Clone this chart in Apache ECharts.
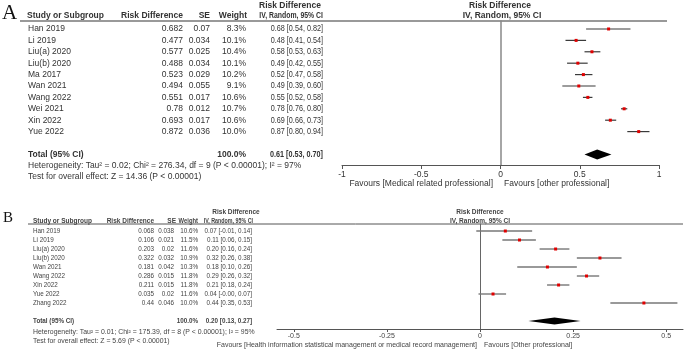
<!DOCTYPE html>
<html><head><meta charset="utf-8">
<script src="https://cdn.jsdelivr.net/npm/echarts@6/dist/echarts.min.js"></script>
<style>html,body{margin:0;padding:0;background:#fff}#c{width:685px;height:354px}</style>
</head><body><div id="c"></div>
<script>
// ---------- Panel A data ----------
const studiesA = ['Han 2019','Li 2019','Liu(a) 2020','Liu(b) 2020','Ma 2017','Wan 2021','Wang 2022','Wei 2021','Xin 2022','Yue 2022'];
const rdA = [0.682,0.477,0.577,0.488,0.523,0.494,0.551,0.78,0.693,0.872];
const seA = [0.07,0.034,0.025,0.034,0.029,0.055,0.017,0.012,0.017,0.036];
const weightA = ['8.3%','10.1%','10.4%','10.1%','10.2%','9.1%','10.6%','10.7%','10.6%','10.0%'];
const ciLowA = [0.54,0.41,0.53,0.42,0.47,0.39,0.52,0.76,0.66,0.80];
const ciHighA = [0.82,0.54,0.63,0.55,0.58,0.60,0.58,0.80,0.73,0.94];
const ciLabelA = ['0.68 [0.54, 0.82]','0.48 [0.41, 0.54]','0.58 [0.53, 0.63]','0.49 [0.42, 0.55]','0.52 [0.47, 0.58]','0.49 [0.39, 0.60]','0.55 [0.52, 0.58]','0.78 [0.76, 0.80]','0.69 [0.66, 0.73]','0.87 [0.80, 0.94]'];
const totalA = [0.61,0.53,0.70];
const totalLabelA = '0.61 [0.53, 0.70]';
const ticksA = [-1,-0.5,0,0.5,1];
const hetA = 'Heterogeneity: Tau\u00b2 = 0.02; Chi\u00b2 = 276.34, df = 9 (P < 0.00001); I\u00b2 = 97%';
const testA = 'Test for overall effect: Z = 14.36 (P < 0.00001)';

// ---------- Panel B data ----------
const studiesB = ['Han 2019','Li 2019','Liu(a) 2020','Liu(b) 2020','Wan 2021','Wang 2022','Xin 2022','Yue 2022','Zhang 2022'];
const rdB = [0.068,0.106,0.203,0.322,0.181,0.286,0.211,0.035,0.44];
const seB = [0.038,0.021,0.02,0.032,0.042,0.015,0.015,0.02,0.046];
const weightB = ['10.6%','11.5%','11.6%','10.9%','10.3%','11.8%','11.8%','11.6%','10.0%'];
const ciLowB = [-0.01,0.06,0.16,0.26,0.10,0.26,0.18,-0.004,0.35];
const ciHighB = [0.14,0.15,0.24,0.38,0.26,0.32,0.24,0.07,0.53];
const ciLabelB = ['0.07 [-0.01, 0.14]','0.11 [0.06, 0.15]','0.20 [0.16, 0.24]','0.32 [0.26, 0.38]','0.18 [0.10, 0.26]','0.29 [0.26, 0.32]','0.21 [0.18, 0.24]','0.04 [-0.00, 0.07]','0.44 [0.35, 0.53]'];
const totalB = [0.20,0.13,0.27];
const totalLabelB = '0.20 [0.13, 0.27]';
const ticksB = [-0.5,-0.25,0,0.25,0.5];
const hetB = 'Heterogeneity: Tau\u00b2 = 0.01; Chi\u00b2 = 175.39, df = 8 (P < 0.00001); I\u00b2 = 95%';
const testB = 'Test for overall effect: Z = 5.69 (P < 0.00001)';

const FF = "'Liberation Sans', Arial, Helvetica, sans-serif";

const panels = [
  {studies: studiesA, rd: rdA, se: seA, wt: weightA, lo: ciLowA, hi: ciHighA, ci: ciLabelA, total: totalA, totalLabel: totalLabelA,
   fs: 8.5, ciScale: 0.85, col: {name: 28, rd: 183, se: 210, wt: 246, ci: 323}, color: '#333', ciColor: '#3a3a3a', ciWidth: 1.2, dot: 3, dh: 5},
  {studies: studiesB, rd: rdB, se: seB, wt: weightB, lo: ciLowB, hi: ciHighB, ci: ciLabelB, total: totalB, totalLabel: totalLabelB,
   fs: 6.3, ciScale: 1, col: {name: 33, rd: 154, se: 174, wt: 198, ci: 252}, color: '#444', ciColor: '#777', ciWidth: 1.4, dot: 3, dh: 3.5}
];

function txt(x, y, text, o) {
  o = o || {};
  return {type: 'text', x: x, y: y, scaleX: o.sx || 1, silent: true, style: {
    text: text, fill: o.fill || '#333', align: o.align || 'left', verticalAlign: 'middle',
    font: (o.bold ? 'bold ' : '') + (o.size || 8.5) + 'px ' + (o.family || FF)
  }};
}

function forestSeries(p, k) {
  const data = p.rd.map((v, i) => [v, i, p.lo[i], p.hi[i]]);
  return {
    type: 'custom', xAxisIndex: k, yAxisIndex: k, clip: false, silent: true,
    encode: {x: [0, 2, 3], y: 1},
    data: data,
    renderItem: function (params, api) {
      const i = api.value(1);
      const a = api.coord([api.value(2), i]), b = api.coord([api.value(3), i]), e = api.coord([api.value(0), i]);
      const d = p.dot;
      return {type: 'group', children: [
        {type: 'line', shape: {x1: a[0], y1: a[1], x2: b[0], y2: b[1]}, style: {stroke: p.ciColor, lineWidth: p.ciWidth}},
        {type: 'rect', shape: {x: e[0] - d / 2, y: e[1] - d / 2, width: d, height: d}, style: {fill: '#e00000'}}
      ]};
    }
  };
}

function diamondSeries(p, k) {
  const row = p.studies.length + 1;
  return {
    type: 'custom', xAxisIndex: k, yAxisIndex: k, clip: false, silent: true,
    encode: {x: [0, 2, 3], y: 1},
    data: [[p.total[0], row, p.total[1], p.total[2]]],
    renderItem: function (params, api) {
      const i = api.value(1);
      const l = api.coord([api.value(2), i]), r = api.coord([api.value(3), i]), c = api.coord([api.value(0), i]);
      return {type: 'polygon', shape: {points: [[l[0], l[1]], [c[0], c[1] - p.dh], [r[0], r[1]], [c[0], c[1] + p.dh]]}, style: {fill: '#000'}};
    }
  };
}

function tableSeries(p, k) {
  const n = p.studies.length;
  const data = p.studies.map((s, i) => [0, i]).concat([[0, n + 1]]);
  return {
    type: 'custom', xAxisIndex: k, yAxisIndex: k, clip: false, silent: true,
    encode: {x: 0, y: 1},
    data: data,
    renderItem: function (params, api) {
      const i = api.value(1);
      const y = api.coord([0, i])[1];
      const c = p.col, f = p.fs;
      const mk = (x, t, al, bold, sx) => ({type: 'text', x: x, y: y, scaleX: sx || 1, style: {text: t, fill: p.color, align: al, verticalAlign: 'middle', font: (bold ? 'bold ' : '') + f + 'px ' + FF}});
      if (params.dataIndex < n) {
        const j = params.dataIndex;
        return {type: 'group', children: [
          mk(c.name, p.studies[j], 'left'),
          mk(c.rd, String(p.rd[j]), 'right'),
          mk(c.se, String(p.se[j]), 'right'),
          mk(c.wt, p.wt[j], 'right'),
          mk(c.ci, p.ci[j], 'right', false, p.ciScale)
        ]};
      }
      return {type: 'group', children: [
        mk(c.name, 'Total (95% CI)', 'left', true),
        mk(c.wt, '100.0%', 'right', true),
        mk(c.ci, p.totalLabel, 'right', true, p.ciScale)
      ]};
    }
  };
}

function fmtTick(v) { return String(v); }

const option = {
  animation: false,
  backgroundColor: '#fff',
  grid: [
    {left: 342, right: 26, top: 21, bottom: 189},
    {left: 277, right: 2, top: 224, bottom: 25}
  ],
  xAxis: [
    {gridIndex: 0, type: 'value', min: -1, max: 1, interval: 0.5,
     axisLine: {onZero: false, lineStyle: {color: '#555', width: 1}},
     axisTick: {length: 4, lineStyle: {color: '#555'}},
     axisLabel: {color: '#333', fontSize: 8.5, fontFamily: FF, margin: 5, formatter: fmtTick, customValues: ticksA},
     splitLine: {show: false}},
    {gridIndex: 1, type: 'value', min: -0.545, max: 0.545,
     axisLine: {onZero: false, lineStyle: {color: '#555', width: 1}},
     axisTick: {length: 3, lineStyle: {color: '#555'}, customValues: ticksB},
     axisLabel: {color: '#444', fontSize: 7, fontFamily: FF, margin: 4, formatter: fmtTick, customValues: ticksB},
     splitLine: {show: false}}
  ],
  yAxis: [
    {gridIndex: 0, type: 'value', min: -0.7, max: 11.93, inverse: true,
     axisLine: {show: true, onZero: true, lineStyle: {color: '#888', width: 1.5}},
     axisTick: {show: false}, axisLabel: {show: false}, splitLine: {show: false}},
    {gridIndex: 1, type: 'value', min: -0.78, max: 10.89, inverse: true,
     axisLine: {show: true, onZero: true, lineStyle: {color: '#666', width: 1}},
     axisTick: {show: false}, axisLabel: {show: false}, splitLine: {show: false}}
  ],
  series: [
    forestSeries(panels[0], 0), diamondSeries(panels[0], 0), tableSeries(panels[0], 0),
    forestSeries(panels[1], 1), diamondSeries(panels[1], 1), tableSeries(panels[1], 1)
  ],
  graphic: [
    // Panel A
    txt(2, 13, 'A', {size: 21, family: "'Liberation Serif', 'Times New Roman', serif", fill: '#111'}),
    {type: 'line', silent: true, shape: {x1: 20, y1: 21, x2: 667, y2: 21}, style: {stroke: '#999', lineWidth: 2}},
    txt(290, 6, 'Risk Difference', {bold: true, align: 'center'}),
    txt(500, 6, 'Risk Difference', {bold: true, align: 'center'}),
    txt(27, 16, 'Study or Subgroup', {bold: true}),
    txt(183, 16, 'Risk Difference', {bold: true, align: 'right'}),
    txt(210, 16, 'SE', {bold: true, align: 'right'}),
    txt(247, 16, 'Weight', {bold: true, align: 'right'}),
    txt(323, 16, 'IV, Random, 95% CI', {bold: true, align: 'right', sx: 0.81}),
    txt(502, 16, 'IV, Random, 95% CI', {bold: true, align: 'center'}),
    txt(28, 166, hetA),
    txt(28, 177, testA),
    txt(493, 184, 'Favours [Medical related professional]', {align: 'right'}),
    txt(504, 184, 'Favours [other professional]'),
    // Panel B
    txt(3, 218, 'B', {size: 15, family: "'Liberation Serif', 'Times New Roman', serif", fill: '#111'}),
    {type: 'line', silent: true, shape: {x1: 28, y1: 224, x2: 683, y2: 224}, style: {stroke: '#555', lineWidth: 1}},
    txt(236, 212, 'Risk Difference', {bold: true, align: 'center', size: 6.5, fill: '#444'}),
    txt(480, 212, 'Risk Difference', {bold: true, align: 'center', size: 6.5, fill: '#444'}),
    txt(33, 221, 'Study or Subgroup', {bold: true, size: 6.5, fill: '#444'}),
    txt(154, 221, 'Risk Difference', {bold: true, align: 'right', size: 6.5, fill: '#444'}),
    txt(176, 221, 'SE', {bold: true, align: 'right', size: 6.5, fill: '#444'}),
    txt(198, 221, 'Weight', {bold: true, align: 'right', size: 6.5, fill: '#444', sx: 0.9}),
    txt(253, 221, 'IV, Random, 95% CI', {bold: true, align: 'right', size: 6.5, fill: '#444', sx: 0.82}),
    txt(480, 221, 'IV, Random, 95% CI', {bold: true, align: 'center', size: 6.5, fill: '#444'}),
    txt(33, 332, hetB, {size: 6.9, fill: '#444'}),
    txt(33, 341, testB, {size: 6.9, fill: '#444'}),
    txt(477, 345, 'Favours [Health information statistical management or medical record management]', {align: 'right', size: 7, fill: '#444'}),
    txt(484, 345, 'Favours [Other professional]', {size: 7, fill: '#444'})
  ]
};

const chart = echarts.init(document.getElementById('c'), null, {renderer: 'canvas'});
chart.setOption(option);
</script>
</body></html>
